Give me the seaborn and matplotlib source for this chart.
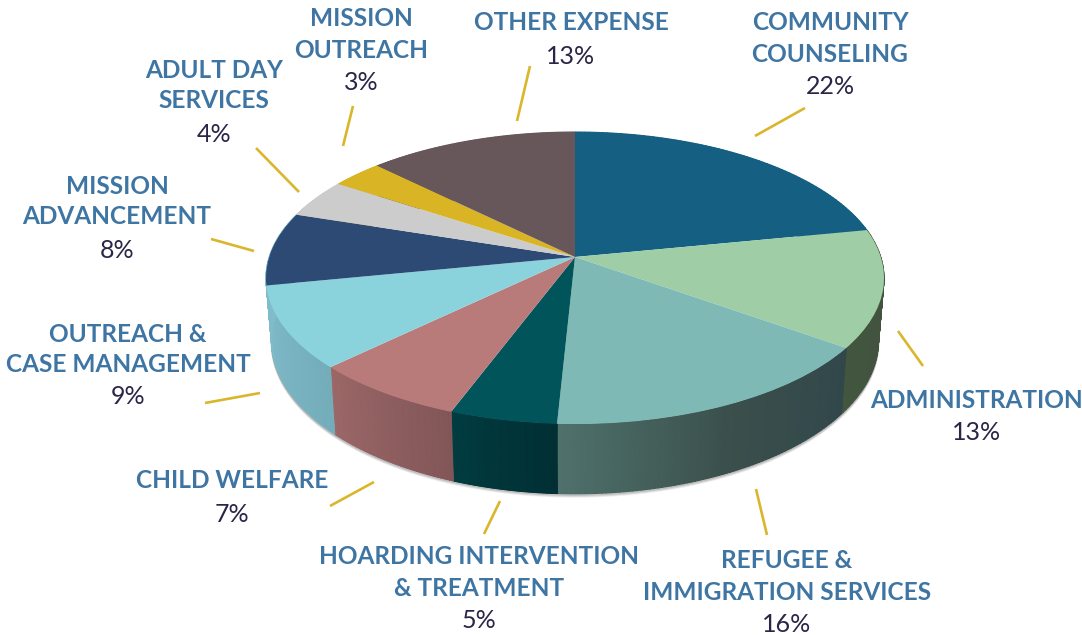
import matplotlib
matplotlib.use('Agg')
import matplotlib.pyplot as plt
import seaborn as sns
import numpy as np
from matplotlib.colors import LinearSegmentedColormap
from matplotlib.transforms import Transform

categories = ['COMMUNITY\nCOUNSELING', 'ADMINISTRATION', 'REFUGEE &\nIMMIGRATION SERVICES',
              'HOARDING INTERVENTION\n& TREATMENT', 'CHILD WELFARE', 'OUTREACH &\nCASE MANAGEMENT',
              'MISSION\nADVANCEMENT', 'ADULT DAY\nSERVICES', 'MISSION\nOUTREACH', 'OTHER EXPENSE']
# slice sizes, the labels show them rounded
values = [21.9, 13.0, 15.9, 4.9, 7.1, 9.1, 8.1, 4.3, 3.1, 12.6]

top_colors = ['#155f82', '#9fcea6', '#7fb9b6', '#02545b', '#b97a7a',
              '#8bd3dc', '#2d4a75', '#cccccc', '#d9b424', '#67575b']
side_left = ['#155f82', '#42553f', '#4f716c', '#013c41', '#9c6767',
             '#80bccb', '#80bccb', '#cccccc', '#d9b424', '#67575b']
side_mid = ['#155f82', '#42543f', '#3b504c', '#013539', '#8f5f60',
            '#7ab4c2', '#80bccb', '#cccccc', '#d9b424', '#67575b']
side_right = ['#155f82', '#42533f', '#31474a', '#012f34', '#825657',
              '#74adba', '#80bccb', '#cccccc', '#d9b424', '#67575b']

# label centre x, y of each text row (last row is the percentage)
label_x = [830, 977, 787, 479, 232, 128, 117, 214, 361, 571]
label_y = [(21, 53, 86), (398, 432), (559, 591, 624), (555, 586, 619), (479, 513),
           (332, 363, 396), (184, 215, 249), (68, 99, 133), (17, 48, 82), (21, 55)]
leaders = [((755, 136), (805, 108)), ((898, 331), (923, 366)), ((756, 489), (767, 535)),
           ((500, 501), (484, 534)), ((374, 482), (330, 506)), ((260, 393), (205, 403)),
           ((254, 251), (211, 239)), ((299, 192), (256, 148)), ((343, 146), (353, 106)),
           ((517, 121), (530, 66))]

sns.set_theme(style='white')
plt.rcParams['font.family'] = ['Lato', 'DejaVu Sans']

# perspective of the disc, fitted to the picture (pixels)
CX, CY, RX, RY, K = 575, 257, 305.8, 143, 0.1439
BOTTOM_X, BOTTOM_Y, BOTTOM_Y0 = 0.982, 1.05, 318.5


def project(u, v):
    w = 1 + K * v
    return CX + RX * u / w, CY - RY * v / w


class Perspective(Transform):
    input_dims = 2
    output_dims = 2
    is_separable = False
    has_inverse = False

    def transform_non_affine(self, values):
        values = np.asarray(values, dtype=float)
        x, y = project(values[:, 0], values[:, 1])
        return np.column_stack([x, y])


fig, ax = plt.subplots(figsize=(10.82, 6.35), dpi=100)
fig.subplots_adjust(0, 0, 1, 1)

wedges, _ = ax.pie(values, colors=top_colors, startangle=90, counterclock=False,
                   wedgeprops={'linewidth': 0, 'zorder': 3})
ax.set_aspect('auto')
ax.set_xlim(0, 1082)
ax.set_ylim(635, 0)
ax.axis('off')

persp = Perspective()
for w in wedges:
    w.set_transform(persp + ax.transData)

# side wall, one gradient mesh per slice
edges = np.cumsum([0] + values) / sum(values) * 2 * np.pi
for i in range(len(values)):
    t = np.linspace(edges[i], edges[i + 1], 80)
    xt, yt = project(np.sin(t), np.cos(t))
    xb = CX + BOTTOM_X * (xt - CX)
    yb = BOTTOM_Y0 + BOTTOM_Y * (yt - CY)
    # left side of the picture is the end of the slice on the front arc
    grad = np.linspace(1, 0, t.size)
    cmap = LinearSegmentedColormap.from_list('w', [side_left[i], side_mid[i], side_right[i]])
    ax.pcolormesh(np.vstack([xt, xb]), np.vstack([yt, yb]), np.vstack([grad, grad]),
                  cmap=cmap, vmin=0, vmax=1, shading='gouraud', zorder=2)

# soft shadow under the front edge
t = np.linspace(np.pi * 0.53, np.pi * 1.47, 300)
xt, yt = project(np.sin(t), np.cos(t))
xb = CX + BOTTOM_X * (xt - CX)
yb = BOTTOM_Y0 + BOTTOM_Y * (yt - CY)
for off, alpha in [(3.0, 0.10), (2.0, 0.18), (1.0, 0.3)]:
    ax.plot(xb, yb + off, color='#555555', lw=1.2, alpha=alpha, zorder=1)

for (p0, p1) in leaders:
    ax.plot([p0[0], p1[0]], [p0[1], p1[1]], color='#dab62c', lw=1.9, solid_capstyle='butt', zorder=4)

for name, val, x, ys in zip(categories, values, label_x, label_y):
    for row, y in zip(name.split('\n'), ys):
        ax.text(x, y + 2, row, color='#3e75a3', fontsize=17.6, fontweight='bold',
                ha='center', va='center')
    ax.text(x, ys[-1] + 1, f'{val:.0f}%', color='#2b2547', fontsize=18, fontweight='normal',
            ha='center', va='center')

fig.savefig('out.png', dpi=100, facecolor='white')
